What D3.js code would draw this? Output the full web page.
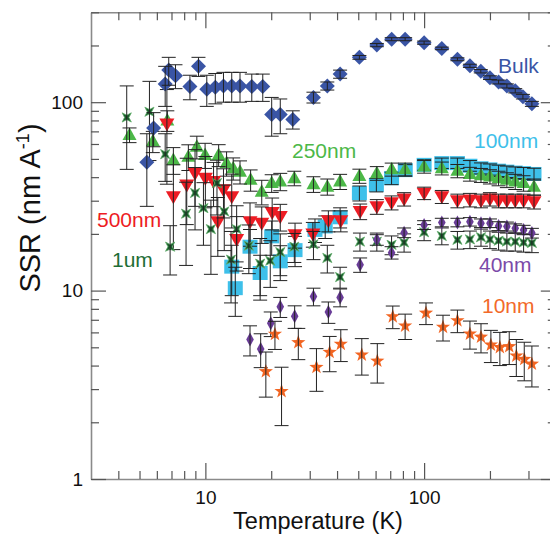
<!DOCTYPE html>
<html>
<head>
<meta charset="utf-8">
<script src="https://cdn.jsdelivr.net/npm/d3@7"></script>
<style>
body { margin: 0; background: #fff; }
svg { display: block; font-family: "Liberation Sans", Arial, sans-serif; }
</style>
</head>
<body>
<svg id="chart"></svg>
<script>
// values: temperature (K), SSR (nm/A), +/- error

var bulkT   = [5.4, 5.8, 6.55, 6.8, 7.3, 8.5, 9.3, 10.15, 11.1, 12.1, 13.2, 14.4, 16.3, 18.3, 20.1, 22, 25.1, 31.2, 36.1, 41.3, 50.6, 60.8, 71.1, 81.9, 100, 120.5, 142, 162, 181.6, 200, 219, 239, 261, 283, 311];
var bulkSSR = [48, 73, 125, 148, 138, 121, 155, 117, 120, 122, 122, 122, 121, 121, 86, 86, 81, 106, 122, 141, 173, 201, 216, 216, 207, 193, 169, 156, 146, 135, 128, 122, 115, 107, 98];
var bulkErr = [20, 15, 30, 25, 20, 18, 18, 22, 22, 22, 22, 22, 20, 20, 20, 18, 9, 7, 6, 7, 4, 4, 4, 4, 4, 3, 3, 3, 3, 3, 3, 3, 3, 3, 3];

var nm100T   = [13.2, 13.7, 16, 17.8, 20.1, 22, 25.7, 31.7, 35.3, 41.3, 50.6, 60.5, 71, 82, 100, 120.5, 142, 162, 182, 200, 219, 239, 261, 285, 318];
var nm100SSR = [13.4, 10.3, 17.1, 12.4, 19.4, 14.3, 16.4, 21, 21.9, 24.5, 32.9, 36.4, 39.5, 43.6, 46.5, 47.5, 47.5, 46, 44.6, 44, 43.3, 42.8, 42.3, 42, 41.6];
var nm100Err = [4, 3, 4, 3, 4, 3, 3, 3, 3, 3, 3, 3, 3, 3, 3, 3, 3, 3, 3, 3, 3, 3, 3, 3, 3];

var nm250T   = [4.5, 5.75, 6.7, 7.14, 8.36, 9.14, 9.97, 11.5, 12.5, 13.4, 14.4, 16.1, 18.1, 20.1, 22, 25.5, 31.2, 36.1, 41.3, 50.6, 60.8, 71.1, 81.9, 100, 120.5, 142, 162, 182, 200, 219, 239, 261, 285, 318];
var nm250SSR = [67, 62, 80, 49.4, 51.4, 58, 52.5, 52.5, 47.5, 44.6, 42.8, 38.7, 33.5, 37.2, 37.9, 39.5, 36.7, 35.6, 37.9, 40.6, 42, 44, 44, 45.5, 44.6, 43.2, 41.6, 41, 40.3, 39.5, 38.7, 37.9, 37.2, 35.6];
var nm250Err = [6, 8, 10, 8, 8, 8, 8, 7, 7, 6, 6, 5, 5, 4, 4, 3.5, 3.5, 3.5, 3.5, 3.5, 3.5, 3.5, 3.5, 3.5, 3.5, 3.5, 3.5, 3.5, 3.5, 3.5, 3.5, 3.5, 3.5, 3.5];

var nm500T   = [6.67, 7.14, 8.22, 8.97, 10, 10.9, 11.4, 12.1, 13.2, 13.9, 16, 18.1, 20.2, 22, 25.7, 31, 36.5, 41.6, 51, 60.8, 71, 81, 100, 120.5, 142, 162, 182, 200, 219, 239, 261, 285, 318];
var nm500SSR = [76.7, 31.5, 36.4, 42, 39.5, 37.9, 23.2, 34.3, 31.5, 18.7, 23.2, 22.8, 26, 24.7, 19.8, 20, 23.5, 23.5, 26.3, 27.9, 29.3, 30.6, 32.9, 31.5, 30, 30.3, 30, 30.6, 30, 30, 30, 30, 29.6];
var nm500Err = [40, 15, 14, 14, 12, 10, 8, 10, 10, 6, 6, 5, 5, 4, 3, 3, 3, 3, 2.5, 2.5, 2.5, 2.5, 2.5, 2.5, 2.5, 2.5, 2.5, 2.5, 2.5, 2.5, 2.5, 2.5, 2.5];

var um1T   = [4.37, 5.55, 6.55, 6.9, 8.16, 8.97, 9.8, 10.6, 11.3, 12.2, 13.1, 13.9, 15.8, 17.8, 19.8, 22, 25.5, 31.2, 36.1, 41.3, 50.9, 60.8, 71, 81, 100, 120.5, 142, 162, 182, 200, 219, 239, 261, 285, 311];
var um1SSR = [83, 89, 53, 17.1, 25.6, 33, 27.4, 21.2, 37.2, 26.3, 14.6, 21.2, 17.3, 13.9, 14.4, 16, 17.1, 17.6, 14.9, 11.8, 18.2, 18.2, 17.5, 18, 20.4, 19.5, 18.6, 18.7, 19.2, 18.7, 18.4, 18.2, 18.2, 18, 17.9];
var um1Err = [39, 40, 15, 5, 12, 12, 10, 9, 12, 10, 6, 7, 5, 5, 4, 4, 3, 3, 2.5, 1.5, 2, 2, 2, 2, 2, 2, 2, 2, 2, 2, 2, 2, 2, 2, 2];

var nm40T   = [16, 17.9, 19.9, 22, 25.6, 31.2, 36.5, 41.3, 51, 60.8, 71, 81, 100, 120.5, 142, 162, 182, 200, 219, 239, 261, 285, 311];
var nm40SSR = [5.5, 4.9, 6.7, 8.2, 7.3, 9.3, 7.7, 9.2, 13.7, 18.6, 15.9, 20.3, 22.3, 23, 23, 23.2, 22.8, 22.8, 22, 21.9, 21.4, 21, 20.2];
var nm40Err = [1, 1, 1, 1, 1, 1, 1, 1, 1.2, 1.2, 1.2, 1.2, 1.2, 1.2, 1.2, 1.2, 1.2, 1.2, 1.2, 1.2, 1.2, 1.2, 1.2];

var nm10T   = [18.9, 20.8, 22.3, 26.6, 32.2, 37, 41.6, 51.9, 61.1, 71.9, 81.9, 102, 122, 142, 162, 182, 202, 222, 245, 264, 287, 311];
var nm10SSR = [3.72, 5.87, 2.92, 5.3, 3.92, 4.71, 5.2, 4.56, 4.23, 7.28, 6.5, 7.6, 6.4, 6.93, 5.89, 5.67, 5.15, 5.0, 5.05, 4.5, 4.32, 4.08];
var nm10Err = [1, 1, 1, 1, 1, 1, 1, 1, 1, 1, 1, 1, 1, 0.95, 1, 1, 1, 1, 1, 1, 1, 1];

var xTicks = [10, 100];
var xMinor = [4, 5, 6, 7, 8, 9, 20, 30, 40, 50, 60, 70, 80, 90, 200, 300, 400];
var yTicks = [1, 10, 100];
var yMinor = [2, 3, 4, 5, 6, 7, 8, 9, 20, 30, 40, 50, 60, 70, 80, 90, 200, 300];

var series = [
    {name: '100nm', T: nm100T, v: nm100SSR, e: nm100Err, shape: 'square', fill: '#3ec0ea', stroke: 'none', lx: 474, ly: 148, lc: '#3ec0ea'},
    {name: '250nm', T: nm250T, v: nm250SSR, e: nm250Err, shape: 'tri', fill: '#4cb848', stroke: 'none', lx: 292, ly: 158, lc: '#4cb848'},
    {name: '500nm', T: nm500T, v: nm500SSR, e: nm500Err, shape: 'tridown', fill: '#ed1c24', stroke: 'none', lx: 97, ly: 227, lc: '#ed1c24'},
    {name: '1um', T: um1T, v: um1SSR, e: um1Err, shape: 'star4', fill: '#1a5a2c', stroke: '#5fae6a', lx: 112, ly: 267, lc: '#1e6e36'},
    {name: '40nm', T: nm40T, v: nm40SSR, e: nm40Err, shape: 'thin', fill: '#6a3d98', stroke: 'none', lx: 479, ly: 272, lc: '#7b4aa9'},
    {name: '10nm', T: nm10T, v: nm10SSR, e: nm10Err, shape: 'star5', fill: '#f26522', stroke: 'none', lx: 482, ly: 313, lc: '#f26a2a'},
    {name: 'Bulk', T: bulkT, v: bulkSSR, e: bulkErr, shape: 'diamond', fill: '#3a55a5', stroke: 'none', lx: 498, ly: 73, lc: '#3a55a5'}
];

var svgwidth = 550, svgheight = 535;
var plotLeft = 91, plotRight = 555.8, plotTop = 12.3, plotBottom = 479;

var svg = d3.select('#chart')
    .attr('width', svgwidth)
    .attr('height', svgheight);

var xScale = d3.scaleLog().domain([3, 400]).range([plotLeft, plotRight]);
var yScale = d3.scaleLog().domain([1, 300]).range([plotBottom, plotTop]);

function star(n, ro, ri, rot) {
    var pts = d3.range(n * 2).map(function(i) {
        var r = i % 2 == 0 ? ro : ri;
        var a = rot + i * Math.PI / n;
        return [r * Math.sin(a), -r * Math.cos(a)];
    });
    return 'M' + pts.join('L') + 'Z';
}

function shapePath(s) {
    if (s == 'diamond') return 'M0,-7.5L7.5,0L0,7.5L-7.5,0Z';
    if (s == 'square') return 'M-7.5,-7L7.5,-7L7.5,7L-7.5,7Z';
    if (s == 'tri') return 'M0,-7.5L7,5L-7,5Z';
    if (s == 'tridown') return 'M-7.5,-5.5L7.5,-5.5L0,7.5Z';
    if (s == 'thin') return 'M0,-7L3.8,0L0,7L-3.8,0Z';
    if (s == 'star5') return star(5, 7.5, 3, 0);
    if (s == 'star4') return star(4, 6.5, 2.2, Math.PI / 4);
}

// axes
function styleAxis(g) {
    g.attr('font-size', 19).attr('font-family', '"Liberation Sans", Arial, sans-serif');
    g.selectAll('.domain').attr('stroke', '#8a8a8a').attr('stroke-width', 1.6);
    g.selectAll('.tick line').attr('stroke', '#555').attr('stroke-width', 1.2);
    g.selectAll('.tick text').attr('fill', '#111');
}

svg.append('g')
    .attr('transform', 'translate(0,' + plotBottom + ')')
    .call(d3.axisBottom(xScale).tickValues(xTicks).tickSizeInner(-16).tickSizeOuter(0).tickPadding(12).tickFormat(d3.format('d')))
    .call(styleAxis);
svg.append('g')
    .attr('transform', 'translate(0,' + plotBottom + ')')
    .call(d3.axisBottom(xScale).tickValues(xMinor).tickSize(-8).tickFormat(''))
    .call(styleAxis);
svg.append('g')
    .attr('transform', 'translate(0,' + plotTop + ')')
    .call(d3.axisTop(xScale).tickValues(xTicks).tickSizeInner(-16).tickSizeOuter(0).tickFormat(''))
    .call(styleAxis);
svg.append('g')
    .attr('transform', 'translate(0,' + plotTop + ')')
    .call(d3.axisTop(xScale).tickValues(xMinor).tickSize(-8).tickFormat(''))
    .call(styleAxis);
svg.append('g')
    .attr('transform', 'translate(' + plotLeft + ',0)')
    .call(d3.axisLeft(yScale).tickValues(yTicks).tickSizeInner(-15).tickSizeOuter(0).tickPadding(8).tickFormat(d3.format('d')))
    .call(styleAxis);
svg.append('g')
    .attr('transform', 'translate(' + plotLeft + ',0)')
    .call(d3.axisLeft(yScale).tickValues(yMinor).tickSize(-8).tickFormat(''))
    .call(styleAxis);
svg.append('g')
    .attr('transform', 'translate(' + plotRight + ',0)')
    .call(d3.axisRight(yScale).tickValues(yTicks).tickSizeInner(-15).tickSizeOuter(0).tickFormat(''))
    .call(styleAxis);
svg.append('g')
    .attr('transform', 'translate(' + plotRight + ',0)')
    .call(d3.axisRight(yScale).tickValues(yMinor).tickSize(-8).tickFormat(''))
    .call(styleAxis);
svg.selectAll('.domain').filter(function(d, i) { return i % 2 == 1; }).remove();

// markers, then error bars on top
series.forEach(function(s) {
    var pts = s.T.map(function(t, i) { return {t: t, v: s.v[i], e: s.e[i]}; });
    var g = svg.append('g');

    g.selectAll('path')
        .data(pts)
        .enter()
        .append('path')
        .attr('d', shapePath(s.shape))
        .attr('fill', s.fill)
        .attr('stroke', s.stroke)
        .attr('stroke-width', 0.8)
        .attr('transform', function(d) {
            return 'translate(' + xScale(d.t) + ',' + yScale(d.v) + ')';
        });

    var eb = g.selectAll('g.err')
        .data(pts)
        .enter()
        .append('g')
        .attr('class', 'err')
        .attr('stroke', '#222')
        .attr('stroke-width', 1);
    eb.append('line')
        .attr('x1', function(d) { return xScale(d.t); })
        .attr('x2', function(d) { return xScale(d.t); })
        .attr('y1', function(d) { return yScale(d.v + d.e); })
        .attr('y2', function(d) { return yScale(Math.max(d.v - d.e, 1)); });
    eb.append('line')
        .attr('x1', function(d) { return xScale(d.t) - 7; })
        .attr('x2', function(d) { return xScale(d.t) + 7; })
        .attr('y1', function(d) { return yScale(d.v + d.e); })
        .attr('y2', function(d) { return yScale(d.v + d.e); });
    eb.append('line')
        .attr('x1', function(d) { return xScale(d.t) - 7; })
        .attr('x2', function(d) { return xScale(d.t) + 7; })
        .attr('y1', function(d) { return yScale(Math.max(d.v - d.e, 1)); })
        .attr('y2', function(d) { return yScale(Math.max(d.v - d.e, 1)); });
});

// series labels
svg.selectAll('text.lab')
    .data(series)
    .enter()
    .append('text')
    .attr('class', 'lab')
    .attr('x', function(d) { return d.lx; })
    .attr('y', function(d) { return d.ly; })
    .attr('fill', function(d) { return d.lc; })
    .attr('font-size', 21)
    .text(function(d) { return d.name; });

// axis titles
svg.append('text')
    .attr('x', 318)
    .attr('y', 529)
    .attr('text-anchor', 'middle')
    .attr('font-size', 23.5)
    .attr('fill', '#111')
    .text('Temperature (K)');

var yt = svg.append('text')
    .attr('transform', 'translate(40,208) rotate(-90)')
    .attr('text-anchor', 'middle')
    .attr('font-size', 29)
    .attr('fill', '#111');
yt.append('tspan').text('SSR (nm  A');
yt.append('tspan').attr('font-size', 18).attr('dy', -11).text('-1');
yt.append('tspan').attr('dy', 11).text(')');
</script>
</body>
</html>
